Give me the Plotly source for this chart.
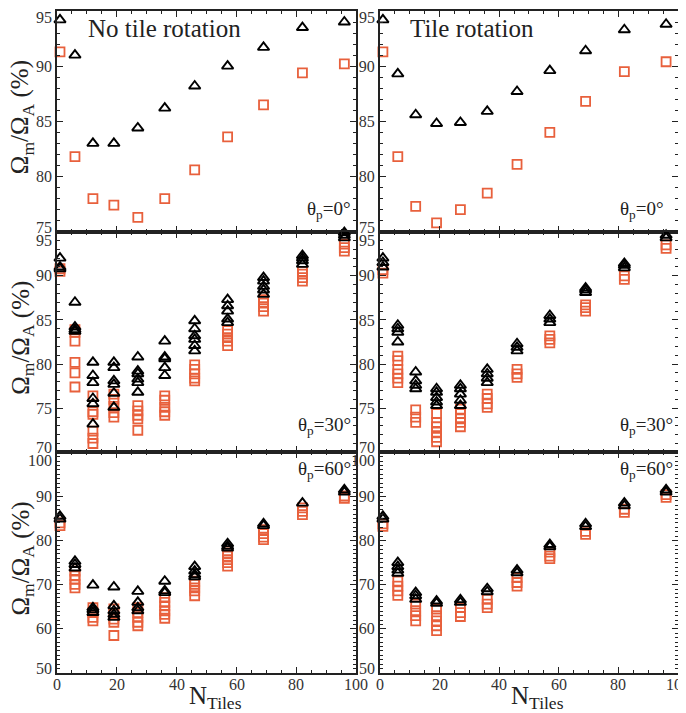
import plotly.graph_objects as go

N_TILES = [1, 6, 12, 19, 27, 36, 46, 57, 69, 82, 96]

# theta_p = 0 deg
tri_norot_0 = [[94.2], [91.0], [83.0], [83.0], [84.4], [86.2], [88.2], [90.0], [91.7], [93.5], [94.0]]
sq_norot_0 = [[91.3], [81.8], [78.0], [77.4], [76.3], [78.0], [80.6], [83.6], [86.5], [89.4], [90.2]]
tri_rot_0 = [[94.2], [89.3], [85.6], [84.8], [84.9], [85.9], [87.7], [89.6], [91.4], [93.3], [93.8]]
sq_rot_0 = [[91.3], [81.8], [77.3], [75.8], [77.0], [78.5], [81.1], [84.0], [86.8], [89.5], [90.4]]

# theta_p = 30 deg
tri_norot_30 = [[92.0, 91.0, 90.8], [87.0, 84.2, 83.9, 83.7], [80.2, 78.7, 77.9, 76.1, 75.5, 73.2],
                [80.2, 79.6, 78.1, 77.7, 76.7, 75.1], [80.8, 79.2, 78.9, 78.3, 77.9, 76.8],
                [82.6, 80.8, 80.6, 79.6, 78.7], [84.9, 84.0, 83.2, 82.8, 82.1, 81.5],
                [87.3, 86.6, 86.0, 85.1, 84.7], [89.8, 89.4, 88.8, 88.4, 87.9],
                [92.3, 92.0, 91.7, 91.3], [94.9, 94.6, 94.3]]
sq_norot_30 = [[90.8, 90.5], [83.9, 83.6, 82.6, 80.2, 79.0, 77.4], [76.4, 74.6, 74.3, 72.4, 71.6, 71.0],
               [76.6, 76.0, 75.2, 74.5, 74.0], [75.3, 74.7, 74.2, 73.8, 72.5],
               [76.4, 75.9, 75.1, 74.6, 74.2], [79.9, 79.4, 78.9, 78.4, 78.1],
               [83.8, 83.4, 83.0, 82.6, 82.1], [87.3, 86.9, 86.5, 86.0],
               [90.5, 90.2, 89.8, 89.4], [93.6, 93.2, 92.8]]
tri_rot_30 = [[92.0, 91.5, 91.0], [84.4, 84.0, 83.6, 82.5], [79.1, 78.1, 77.6, 77.2],
              [77.2, 76.8, 76.2, 75.7, 75.3], [77.6, 77.2, 76.6, 75.9, 75.3],
              [79.4, 78.9, 78.4, 77.9], [82.3, 81.9, 81.5], [85.5, 85.1, 84.7],
              [88.6, 88.4, 88.1], [91.4, 91.2, 90.9], [94.6, 94.3]]
sq_rot_30 = [[90.7, 90.3], [80.9, 80.4, 79.4, 78.9, 78.4, 77.9], [74.8, 74.0, 73.4],
             [74.4, 73.4, 72.9, 72.3, 71.7, 71.2], [74.9, 74.4, 73.8, 73.4, 72.9],
             [76.6, 76.1, 75.5, 75.1], [79.4, 78.9, 78.5], [83.2, 82.8, 82.4],
             [86.7, 86.4, 86.0], [90.0, 89.6], [93.5, 93.1]]

# theta_p = 60 deg
tri_norot_60 = [[85.5, 84.9], [75.3, 74.6, 73.8], [69.9, 64.8, 64.3, 63.7],
                [69.5, 65.2, 64.1, 63.3, 62.6], [68.5, 66.0, 64.8, 64.1],
                [70.8, 68.6, 68.2], [74.1, 73.1, 72.3, 71.8], [79.3, 78.7, 78.3],
                [83.8, 83.4], [88.5], [91.5, 91.0]]
sq_norot_60 = [[84.0, 83.4], [73.1, 72.0, 71.2, 70.1, 69.3], [64.8, 63.7, 62.6, 61.8],
               [64.5, 63.3, 62.2, 61.5, 58.5], [64.8, 63.7, 62.6, 61.5, 60.7],
               [67.1, 66.0, 65.2, 64.1, 63.3, 62.4], [70.8, 70.1, 69.3, 68.6, 67.5],
               [77.2, 76.5, 75.7, 75.0, 74.2], [82.5, 81.6, 80.8, 80.2],
               [87.4, 86.6, 85.9], [90.1, 89.6]]
tri_rot_60 = [[85.5, 84.9], [75.0, 74.1, 73.3, 72.6], [68.2, 67.5, 66.7],
              [66.3, 65.8], [66.6, 66.0], [69.1, 68.4], [73.3, 72.7], [79.1, 78.6],
              [83.8, 83.2], [88.5, 87.9], [91.5, 91.0]]
sq_rot_60 = [[83.8, 83.2], [70.8, 69.7, 68.6, 67.6], [65.6, 64.1, 63.0, 61.8],
             [64.5, 63.0, 61.8, 60.7, 59.6], [64.8, 63.7, 62.8], [66.7, 65.6, 64.8],
             [71.6, 70.5, 69.7], [77.4, 76.5, 75.9], [82.1, 81.4], [87.1, 86.4], [90.4, 89.8]]

PANEL_TITLES = ["No tile rotation", "Tile rotation"]
THETA_LABELS = ["θ<sub>p</sub>=0°", "θ<sub>p</sub>=30°", "θ<sub>p</sub>=60°"]
Y_TITLE = "Ω<sub>m</sub>/Ω<sub>A</sub> (%)"
X_TITLE = "N<sub>Tiles</sub>"
Y_RANGES = [[75, 95], [70, 95], [50, 100]]
Y_TICKS = [[75, 80, 85, 90, 95], [70, 75, 80, 85, 90, 95], [50, 60, 70, 80, 90, 100]]
X_TICKS = [0, 20, 40, 60, 80, 100]

panels = [
    [(tri_norot_0, sq_norot_0), (tri_rot_0, sq_rot_0)],
    [(tri_norot_30, sq_norot_30), (tri_rot_30, sq_rot_30)],
    [(tri_norot_60, sq_norot_60), (tri_rot_60, sq_rot_60)],
]

SQ_COLOR = "#E8603C"
FONT = "Liberation Serif"
TXT = "#222"
LBL = dict(family=FONT, size=16, color="#333")

x_domains = [[0.0, 0.482], [0.520, 1.0]]
y_domains = [[2/3, 1.0], [1/3, 2/3], [0.0, 1/3]]
# pixel nudges of the end tick labels (bottom, top), as in the original figure
EDGE_SHIFT = [(4, -6), (5, -9), (5, -8)]

fig = go.Figure()


def flatten(groups):
    xs, ys = [], []
    for n, vals in zip(N_TILES, groups):
        for v in vals:
            xs.append(n)
            ys.append(v)
    return xs, ys


annotations = []
k = 0
for r in range(3):
    for c in range(2):
        k += 1
        xa = "x" if k == 1 else f"x{k}"
        ya = "y" if k == 1 else f"y{k}"
        tri, sq = panels[r][c]
        xs, ys = flatten(sq)
        fig.add_trace(go.Scatter(x=xs, y=ys, mode="markers", xaxis=xa, yaxis=ya,
                                 marker=dict(symbol="square-open", size=9, color=SQ_COLOR,
                                             line=dict(width=1.8, color=SQ_COLOR)),
                                 showlegend=False, cliponaxis=False))
        xs, ys = flatten(tri)
        fig.add_trace(go.Scatter(x=xs, y=ys, mode="markers", xaxis=xa, yaxis=ya,
                                 marker=dict(symbol="triangle-up-open", size=10, color="black",
                                             line=dict(width=1.9, color="black")),
                                 showlegend=False, cliponaxis=False))
        xname = "xaxis" if k == 1 else f"xaxis{k}"
        yname = "yaxis" if k == 1 else f"yaxis{k}"
        fig.layout[xname] = dict(
            domain=x_domains[c], anchor=ya, range=[0, 100], tickvals=X_TICKS,
            ticks="inside", ticklen=6, tickwidth=1.2, mirror="ticks", showline=True,
            linecolor=TXT, linewidth=1.8, tickcolor=TXT, showgrid=False, zeroline=False,
            showticklabels=False,
            minor=dict(dtick=5, tick0=0, ticks="inside", ticklen=3, tickcolor=TXT, showgrid=False),
        )
        yt = Y_TICKS[r]
        fig.layout[yname] = dict(
            domain=y_domains[r], anchor=xa, range=Y_RANGES[r],
            tickvals=yt, ticktext=[""] + [str(v) for v in yt[1:-1]] + [""],
            ticks="inside", ticklen=6, tickwidth=1.2, mirror="ticks", showline=True,
            linecolor=TXT, linewidth=1.8, tickcolor=TXT, showgrid=False, zeroline=False,
            tickfont=LBL,
            minor=dict(dtick=1, tick0=0, ticks="inside", ticklen=3, tickcolor=TXT, showgrid=False),
        )
        for val, shift in ((yt[0], EDGE_SHIFT[r][0]), (yt[-1], EDGE_SHIFT[r][1])):
            annotations.append(dict(text=str(val), xref=f"{xa} domain", yref=ya, x=0, y=val,
                                    xanchor="right", yanchor="middle", xshift=-3, yshift=shift,
                                    showarrow=False, font=LBL))
        if c == 0:
            annotations.append(dict(text=Y_TITLE, textangle=-90, xref="paper", yref=f"{ya} domain",
                                    x=-0.056, y=0.52, xanchor="center", yanchor="middle",
                                    showarrow=False, font=dict(family=FONT, size=25, color=TXT)))
        if r == 2:
            # x tick labels, placed close under the axis as in the original
            for v in X_TICKS:
                annotations.append(dict(text=str(v), xref=xa, yref=f"{ya} domain", x=v, y=0,
                                        xanchor="center", yanchor="middle", yshift=-11,
                                        showarrow=False, font=LBL))
            annotations.append(dict(text=X_TITLE, xref=f"{xa} domain", yref="paper",
                                    x=0.53, y=-0.063, xanchor="center", yanchor="bottom",
                                    showarrow=False, font=dict(family=FONT, size=25, color=TXT)))

title_x = [0.097, 0.094]
for c in range(2):
    k = c + 1
    xa = "x" if k == 1 else f"x{k}"
    ya = "y" if k == 1 else f"y{k}"
    annotations.append(dict(text=PANEL_TITLES[c], xref=f"{xa} domain", yref=f"{ya} domain",
                            x=title_x[c], y=0.92, xanchor="left", yanchor="middle",
                            showarrow=False, font=dict(family=FONT, size=25, color=TXT)))

theta_pos = [
    [(0.99, 0.10), (0.96, 0.10)],
    [(0.99, 0.12), (0.99, 0.12)],
    [(0.99, 0.92), (0.99, 0.92)],
]
for r in range(3):
    for c in range(2):
        k = r * 2 + c + 1
        xa = "x" if k == 1 else f"x{k}"
        ya = "y" if k == 1 else f"y{k}"
        px, py = theta_pos[r][c]
        annotations.append(dict(text=THETA_LABELS[r], xref=f"{xa} domain", yref=f"{ya} domain",
                                x=px, y=py, xanchor="right", yanchor="middle", showarrow=False,
                                font=dict(family=FONT, size=19, color=TXT)))

# the page body places the figure 8px in from the window's top-left corner,
# so the figure is sized 8px smaller than the 686x713 window
fig.update_layout(
    width=678, height=705,
    margin=dict(l=49, r=8, t=1, b=40),
    paper_bgcolor="white", plot_bgcolor="white",
    annotations=annotations,
)

fig.write_html("out.html")
